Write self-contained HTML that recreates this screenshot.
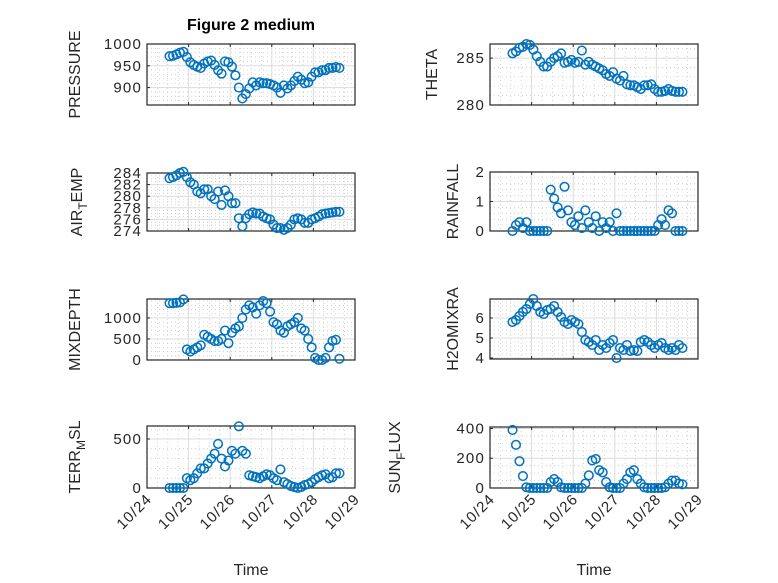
<!DOCTYPE html>
<html><head><meta charset="utf-8"><style>
html,body{margin:0;padding:0;background:#fff;}
svg{display:block;font-family:"Liberation Sans",sans-serif;}
</style></head><body>
<svg id="fig" width="778" height="583" viewBox="0 0 778 583">
<text x="251" y="30" text-anchor="middle" font-size="16" font-weight="bold" fill="#000">Figure 2 medium</text>
</svg>
<script>
// hours since 10/24 00:00
const hours = [13,15,17,19,21,23,25,27,29,31,33,35,37,39,41,43,45,47,49,51,53,55,57,59,61,63,65,67,69,71,73,75,77,79,81,83,85,87,89,91,93,95,97,99,101,103,105,107,109,111];
const pressure = [972,973,976,980,982,970,958,952,948,945,955,960,962,952,940,932,960,958,948,928,900,875,885,898,912,905,912,910,910,908,905,900,888,905,898,905,915,925,918,910,912,925,935,935,940,940,945,945,947,945];
const airTemp = [283.1,283.3,283.6,284.0,284.2,283.3,282.4,282.0,280.8,280.5,281.2,281.2,280.0,279.5,280.8,278.5,281.0,280.0,278.8,278.8,276.2,274.8,276.2,276.9,277.2,277.0,277.0,276.5,276.2,276.0,275.1,274.5,274.5,274.2,274.5,275.1,276.0,276.2,276.0,275.4,275.4,276.0,276.2,276.5,276.9,277.0,277.1,277.2,277.3,277.3];
const mixDepth = [1350,1350,1360,1370,1440,250,200,250,300,350,600,550,500,450,450,500,700,400,650,750,800,1000,1200,1300,1250,1100,1300,1400,1350,1150,900,850,700,650,800,850,900,1000,750,700,500,300,50,0,0,50,300,450,480,30];
const terrMsl = [0,0,0,0,0,100,80,100,150,200,200,250,300,350,450,300,220,280,380,350,630,380,350,130,120,110,100,120,140,130,100,80,190,60,40,20,10,0,10,30,40,60,90,110,130,140,100,110,150,150];
const theta = [285.5,285.7,286.1,286.2,286.5,286.4,285.9,285.2,284.6,284.1,284.1,284.6,285.0,285.2,285.5,284.5,284.6,284.8,284.5,284.6,285.8,284.3,284.6,284.3,284.1,283.9,283.7,283.3,283.1,283.5,282.8,282.6,283.1,282.2,282.1,282.1,281.9,281.7,282.1,282.1,282.2,281.7,281.4,281.4,281.5,281.7,281.5,281.4,281.4,281.4];
const rainfall = [0,0.2,0.3,0.1,0.3,0,0,0,0,0,0,1.4,1.1,0.8,0.6,1.5,0.7,0.3,0.2,0.5,0.1,0.7,0.3,0.1,0.5,0,0.3,0.1,0.3,0,0.6,0,0,0,0,0,0,0,0,0,0,0,0.2,0.4,0.2,0.7,0.6,0,0,0];
const h2oMix = [5.8,5.9,6.1,6.3,6.45,6.7,6.95,6.6,6.3,6.2,6.4,6.45,6.6,6.3,6.05,5.8,5.7,5.9,5.8,5.7,5.3,4.9,4.8,4.65,4.9,4.4,4.65,4.5,4.75,4.9,4.0,4.5,4.4,4.65,4.35,4.4,4.35,4.8,4.9,4.8,4.65,4.5,4.65,4.75,4.5,4.4,4.5,4.4,4.65,4.5];
const sunFlux = [390,290,180,80,5,0,0,0,0,0,0,40,60,40,5,0,0,0,0,0,0,30,85,185,195,120,105,40,5,0,0,0,30,60,105,120,60,30,5,0,0,0,0,0,5,30,50,50,30,25];
const xTickLabels = ["10/24","10/25","10/26","10/27","10/28","10/29"];

const NS = "http://www.w3.org/2000/svg";
const svg = document.getElementById("fig");
function mk(tag, attrs, parent){ const e=document.createElementNS(NS,tag); for(const k in attrs) e.setAttribute(k,attrs[k]); (parent||svg).appendChild(e); return e; }

const panels = [
 {key:"pressure", data:pressure, label:["PRESSURE"], x0:147,x1:355,y0:44,y1:105, ymin:860,ymax:1000, ticks:[900,950,1000], minor:10, lx:80, xt:false},
 {key:"theta", data:theta, label:["THETA"], x0:490,x1:698,y0:44,y1:105, ymin:280,ymax:286.5, ticks:[280,285], minor:1, lx:437, xt:false},
 {key:"air-temp", data:airTemp, label:["AIR","T","EMP"], x0:147,x1:355,y0:173,y1:231, ymin:274,ymax:284, ticks:[274,276,278,280,282,284], minor:0.5, lx:82, xt:false},
 {key:"rainfall", data:rainfall, label:["RAINFALL"], x0:490,x1:698,y0:172,y1:231, ymin:0,ymax:2, ticks:[0,1,2], minor:0.2, lx:458, xt:false},
 {key:"mixdepth", data:mixDepth, label:["MIXDEPTH"], x0:147,x1:355,y0:299,y1:360, ymin:0,ymax:1450, ticks:[0,500,1000], minor:100, lx:80, xt:false},
 {key:"h2omixratio", data:h2oMix, label:["H2OMIXRA"], x0:490,x1:698,y0:299,y1:359, ymin:3.95,ymax:6.95, ticks:[4,5,6], minor:0.2, lx:458, xt:false},
 {key:"terr-msl", data:terrMsl, label:["TERR","M","SL"], x0:147,x1:355,y0:426,y1:488, ymin:0,ymax:633, ticks:[0,500], minor:100, lx:80, xt:true},
 {key:"sun-flux", data:sunFlux, label:["SUN","F","LUX"], x0:490,x1:698,y0:427,y1:488, ymin:0,ymax:410, ticks:[0,200,400], minor:50, lx:400, xt:true}
];

panels.forEach(p=>{
  const g = mk("g",{});
  
  
  const xs = h => p.x0 + (h/24)*(p.x1-p.x0)/5;
  const ys = v => p.y1 - (v-p.ymin)/(p.ymax-p.ymin)*(p.y1-p.y0);
  // minor grid x (6h)
  for(let h=6; h<120; h+=6){ if(h%24===0) continue;
    const l=mk("line",{x1:xs(h),x2:xs(h),y1:p.y0,y2:p.y1,stroke:"#c8c8c8","stroke-width":0.8,"stroke-dasharray":"1,3"},g);
     
  }
  // minor grid y
  const start = Math.ceil(p.ymin/p.minor)*p.minor;
  for(let v=start; v<p.ymax; v+=p.minor){ v=Math.round(v*1000)/1000; if(p.ticks.some(t=>Math.abs(t-v)<1e-6)) continue;
    const l=mk("line",{x1:p.x0,x2:p.x1,y1:ys(v),y2:ys(v),stroke:"#c8c8c8","stroke-width":0.8,"stroke-dasharray":"1,3"},g);
     
  }
  // major grid
  for(let d=1; d<5; d++){
    const l=mk("line",{x1:xs(d*24),x2:xs(d*24),y1:p.y0,y2:p.y1,stroke:"#dcdcdc","stroke-width":1},g);
     
  }
  p.ticks.forEach(t=>{
    const l=mk("line",{x1:p.x0,x2:p.x1,y1:ys(t),y2:ys(t),stroke:"#dcdcdc","stroke-width":1},g);
     
    const tk=mk("line",{x1:p.x0,x2:p.x0+3,y1:ys(t),y2:ys(t),stroke:"#262626","stroke-width":1},g);
     
    const tx=mk("text",{x:p.x0-5,y:ys(t)+5,"text-anchor":"end","font-size":15,"letter-spacing":"1.2",fill:"#262626"},g);
    tx.textContent = String(t);
     
  });
  for(let d=0; d<=5; d++){
    const tk=mk("line",{x1:xs(d*24),x2:xs(d*24),y1:p.y1,y2:p.y1-3,stroke:"#262626","stroke-width":1},g);
     
    const tk2=mk("line",{x1:xs(d*24),x2:xs(d*24),y1:p.y0,y2:p.y0+3,stroke:"#262626","stroke-width":1},g);
     
    if(p.xt){
      const x=xs(d*24), y=p.y1+12;
      const tx=mk("text",{x:x+4,y:y+4,"text-anchor":"end","font-size":15,"letter-spacing":"1",fill:"#262626",transform:`rotate(-45 ${x} ${y})`},g);
      tx.textContent = xTickLabels[d];
       
    }
  }
  // box
  const box=mk("rect",{x:p.x0,y:p.y0,width:p.x1-p.x0,height:p.y1-p.y0,fill:"none",stroke:"#262626","stroke-width":1.2},g);
   
  // points
  p.data.forEach((v,i)=>{
    const c=mk("circle",{cx:xs(hours[i]),cy:ys(v),r:4.3,fill:"none",stroke:"#0072BD","stroke-width":1.5},g);
    
    
  });
  // y label
  const cy=(p.y0+p.y1)/2;
  const lab=mk("text",{x:p.lx,y:cy,"text-anchor":"middle","font-size":16,fill:"#262626",transform:`rotate(-90 ${p.lx} ${cy})`},g);
  
  
  if(p.label.length===1){ lab.textContent=p.label[0]; }
  else {
    const a=mk("tspan",{},lab); a.textContent=p.label[0];
    const b=mk("tspan",{dy:5,"font-size":12},lab); b.textContent=p.label[1];
    const c=mk("tspan",{dy:-5},lab); c.textContent=p.label[2];
  }
});
// x labels
[[251,"time-label-left"],[594,"time-label-right"]].forEach(([x,n])=>{
  const t=mk("text",{x:x,y:575,"text-anchor":"middle","font-size":16,fill:"#262626"});
  t.textContent="Time";
  
  
});
</script>
</body></html>
